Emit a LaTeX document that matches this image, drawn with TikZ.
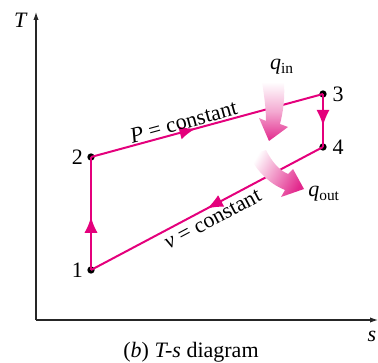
\documentclass[tikz,border=0pt]{standalone}
\usepackage{fontspec}
\setmainfont{Liberation Serif}
\usetikzlibrary{positioning,arrows.meta,decorations.markings}
\definecolor{cyclepink}{RGB}{228,0,124}
\definecolor{heatpink}{RGB}{226,40,140}
\begin{document}
\begin{tikzpicture}[x=0.75pt,y=-0.75pt,
	axis/.style={line width=0.8pt,draw=black!85,-{Latex[length=6pt,width=4pt]}},
	cycle/.style={line width=1.5pt,draw=cyclepink},
	midarr/.style={postaction={decorate},decoration={markings,
		mark=at position #1 with {\arrow{Latex[length=12pt,width=10pt]}}}},
	dot/.style={circle,fill=black,inner sep=0pt,minimum size=5.5pt},
	lbl/.style={font=\fontsize{16.5}{19}\selectfont,inner sep=1pt}]
	\useasboundingbox (0,0) rectangle (378,363);
	% axes
	\coordinate (O) at (36,320);
	\coordinate (Ttop) at (36,12);
	\coordinate (Send) at (378,320);
	\draw[axis] (O) -- (Ttop);
	\draw[axis] (O) -- (Send);
	\node[lbl] (T) at (21,20) {\textit{T}};
	\node[lbl] (s) at (372,336) {\textit{s}};
	% states
	\node[dot] (p1) at (91,270) {};
	\node[dot] (p2) at (91,157) {};
	\node[dot] (p3) at (323,94) {};
	\node[dot] (p4) at (323,147) {};
	\node[lbl,left=2pt of p1] (n1) {1};
	\node[lbl,left=2pt of p2] (n2) {2};
	\node[lbl,right=3pt of p3] (n3) {3};
	\node[lbl,right=3pt of p4] (n4) {4};
	% processes
	\draw[cycle,midarr=0.47] (p1.center) -- (p2.center);
	\draw[cycle,midarr=0.45] (p2.center) -- node[lbl,above=0pt,sloped,pos=0.41] (pc) {\textit{P} = constant} (p3.center);
	\draw[cycle,midarr=0.6] (p3.center) -- (p4.center);
	\draw[cycle,midarr=0.5] (p4.center) -- node[lbl,below=3pt,sloped,pos=0.5] (vc) {\textit{v} = constant} (p1.center);
	% heat in and out
	\shade[top color=white,bottom color=heatpink,middle color=heatpink!40]
		(262,82) -- (284,82) .. controls (285,100) and (283,112) .. (280,124)
		-- (288,127) -- (269,141) -- (259,118) -- (266,121)
		.. controls (266,108) and (264,95) .. (262,82) -- cycle;
	\shade[left color=white,right color=heatpink,shading angle=60]
		(249,155) -- (266,150) .. controls (272,162) and (279,170) .. (288,174)
		-- (293,169) -- (304,189) -- (281,197) -- (285,190)
		.. controls (270,184) and (257,172) .. (249,155) -- cycle;
	\node[lbl] (qin) at (282,67) {\textit{q}\textsubscript{in}};
	\node[lbl] (qout) at (324,194) {\textit{q}\textsubscript{out}};
	\node[lbl] (cap) at (191,352) {(\textit{b}) \textit{T-s} diagram};
\end{tikzpicture}
\end{document}
